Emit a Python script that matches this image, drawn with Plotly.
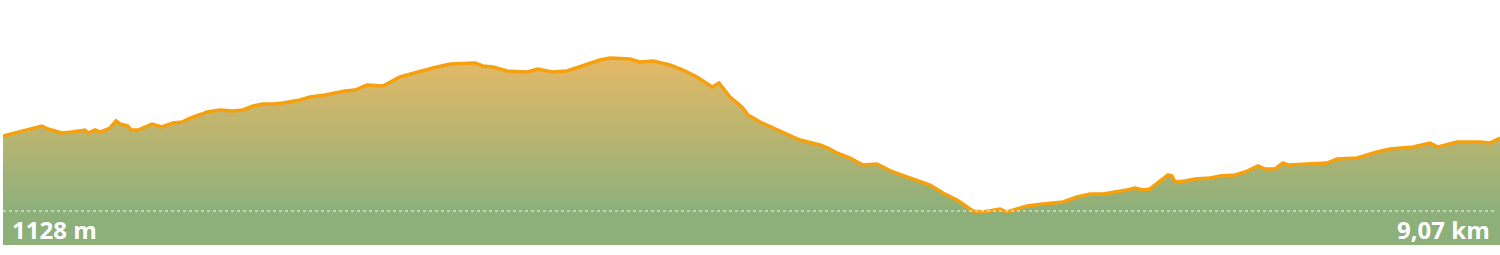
import plotly.graph_objects as go

# Elevation profile: distance along the route (km) and elevation (m)
distance_km = [0.000, 0.103, 0.236, 0.273, 0.357, 0.418, 0.497, 0.515, 0.557, 0.588,
               0.648, 0.685, 0.709, 0.757, 0.776, 0.818, 0.903, 0.963, 1.030, 1.085,
               1.133, 1.206, 1.236, 1.315, 1.394, 1.454, 1.515, 1.575, 1.636, 1.696,
               1.799, 1.860, 1.951, 2.072, 2.133, 2.205, 2.302, 2.405, 2.508, 2.605,
               2.708, 2.811, 2.860, 2.908, 2.969, 3.054, 3.175, 3.241, 3.326, 3.417,
               3.496, 3.557, 3.617, 3.678, 3.799, 3.859, 3.938, 4.041, 4.120, 4.205,
               4.296, 4.338, 4.405, 4.477, 4.514, 4.587, 4.665, 4.726, 4.829, 4.950,
               4.999, 5.053, 5.132, 5.211, 5.295, 5.392, 5.538, 5.617, 5.695, 5.780,
               5.877, 5.938, 6.041, 6.083, 6.144, 6.204, 6.301, 6.362, 6.422, 6.507,
               6.586, 6.665, 6.750, 6.810, 6.859, 6.907, 6.949, 6.980, 7.022, 7.059,
               7.083, 7.101, 7.162, 7.222, 7.313, 7.374, 7.464, 7.525, 7.604, 7.646,
               7.707, 7.755, 7.786, 8.022, 8.082, 8.204, 8.325, 8.404, 8.543, 8.646,
               8.694, 8.809, 8.949, 9.009, 9.070]
elevation_m = [1204, 1208, 1214, 1211, 1207, 1208, 1210, 1207, 1210, 1208,
               1212, 1219, 1216, 1214, 1210, 1210, 1216, 1213, 1217, 1218,
               1222, 1226, 1228, 1230, 1229, 1230, 1234, 1236, 1236, 1237,
               1240, 1243, 1245, 1249, 1250, 1255, 1254, 1263, 1268, 1272,
               1276, 1277, 1277, 1274, 1273, 1269, 1268, 1271, 1268, 1269,
               1273, 1277, 1280, 1282, 1281, 1278, 1279, 1275, 1270, 1263,
               1253, 1257, 1243, 1233, 1225, 1218, 1212, 1208, 1200, 1195,
               1192, 1187, 1182, 1175, 1176, 1168, 1160, 1155, 1147, 1140,
               1129, 1128, 1131, 1128, 1131, 1134, 1136, 1137, 1138, 1143,
               1146, 1146, 1148, 1150, 1152, 1150, 1151, 1155, 1160, 1165,
               1164, 1158, 1159, 1161, 1162, 1164, 1165, 1168, 1174, 1171,
               1171, 1177, 1175, 1177, 1181, 1182, 1188, 1191, 1193, 1197,
               1193, 1198, 1198, 1197, 1202]

MIN_LABEL = "1128 m"
DIST_LABEL = "9,07 km"
TOTAL_KM = distance_km[-1]
min_elev = min(elevation_m)
max_elev = max(elevation_m)

GREEN = "#8db07b"
ORANGE_FILL = "#e5b966"
LINE = "#f5a00c"

fig = go.Figure()
fig.add_trace(go.Scatter(
    x=distance_km, y=elevation_m, mode="lines",
    line=dict(color=LINE, width=3.5, shape="linear"),
    fill="tozeroy",
    fillgradient=dict(type="vertical",
                      colorscale=[[0, GREEN], [1, ORANGE_FILL]],
                      start=min_elev + 1, stop=max_elev),
    hoverinfo="skip", showlegend=False,
))

fig.add_shape(type="line", xref="paper", yref="y", x0=0, x1=0.998,
              y0=min_elev + 1, y1=min_elev + 1,
              line=dict(color="rgba(255,255,255,0.9)", width=1, dash="dot"))

label_font = dict(family="Open Sans", size=24, color="white", weight="bold")
fig.add_annotation(text=MIN_LABEL, xref="paper", yref="paper", x=0.005, y=0.062,
                   xanchor="left", yanchor="middle", showarrow=False, font=label_font)
fig.add_annotation(text=DIST_LABEL, xref="paper", yref="paper", x=0.9945, y=0.062,
                   xanchor="right", yanchor="middle", showarrow=False, font=label_font)

fig.update_layout(
    width=1500, height=255,
    margin=dict(l=3, r=0, t=0, b=10),
    paper_bgcolor="white", plot_bgcolor="white",
    xaxis=dict(range=[0, TOTAL_KM], visible=False, fixedrange=True),
    yaxis=dict(range=[min_elev - 33, min_elev + 212], visible=False, fixedrange=True),
)

fig.write_html("out.html")
